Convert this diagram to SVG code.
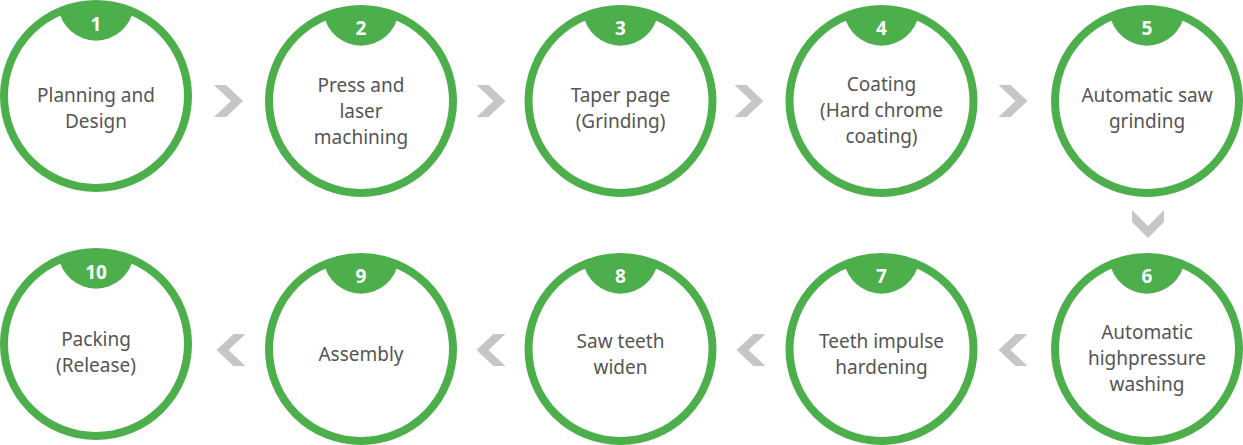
<svg xmlns="http://www.w3.org/2000/svg" width="1243" height="445" viewBox="0 0 1243 445">
<style>
.ring{fill:#fff;stroke:#4caf4c;stroke-width:8}
.badge{fill:#4caf4c}
.num{font-family:"Noto Sans","Liberation Sans",sans-serif;font-size:19px;font-weight:bold;fill:#fff;text-anchor:middle}
.lbl{font-family:"Noto Sans","Liberation Sans",sans-serif;font-size:19px;fill:#555;text-anchor:middle}
.chev{fill:#c6c6c6}
</style>
<defs>
<path id="badge" d="M -37.5,-87.2 A 38 38 0 0 0 37.5,-87.2 A 96 96 0 0 0 -37.5,-87.2 Z"/>
<polygon id="chevR" points="-14.5,-16 -2.5,-16 14.5,0 -2.5,16 -14.5,16 2.5,0"/>
<polygon id="chevL" points="14.5,-16 2.5,-16 -14.5,0 2.5,16 14.5,16 -2.5,0"/>
<polygon id="chevD" points="-16,-14 -16,-2 0,14 16,-2 16,-14 0,2"/>
</defs>
<rect width="1243" height="445" fill="#fff"/>
<g id="connectors" class="chev">
<use href="#chevR" x="228.5" y="101"/>
<use href="#chevR" x="491" y="101"/>
<use href="#chevR" x="749" y="101"/>
<use href="#chevR" x="1013" y="101"/>
<use href="#chevD" x="1148" y="224"/>
<use href="#chevL" x="1013" y="350"/>
<use href="#chevL" x="751" y="350"/>
<use href="#chevL" x="491" y="350"/>
<use href="#chevL" x="231" y="350"/>
</g>
<g id="node1">
<circle class="ring" cx="96" cy="96" r="92"/>
<use href="#badge" class="badge" x="96" y="96"/>
<text class="num" x="96" y="31">1</text>
<text class="lbl" x="96" y="102">Planning and</text>
<text class="lbl" x="96" y="128">Design</text>
</g>
<g id="node2">
<circle class="ring" cx="361" cy="101" r="92"/>
<use href="#badge" class="badge" x="361" y="101"/>
<text class="num" x="361" y="35">2</text>
<text class="lbl" x="361" y="92">Press and</text>
<text class="lbl" x="361" y="118">laser</text>
<text class="lbl" x="361" y="144">machining</text>
</g>
<g id="node3">
<circle class="ring" cx="620.5" cy="101" r="92"/>
<use href="#badge" class="badge" x="620.5" y="101"/>
<text class="num" x="620.5" y="35">3</text>
<text class="lbl" x="620.5" y="102">Taper page</text>
<text class="lbl" x="620.5" y="128">(Grinding)</text>
</g>
<g id="node4">
<circle class="ring" cx="881.5" cy="101" r="92"/>
<use href="#badge" class="badge" x="881.5" y="101"/>
<text class="num" x="881.5" y="35">4</text>
<text class="lbl" x="881.5" y="91">Coating</text>
<text class="lbl" x="881.5" y="117">(Hard chrome</text>
<text class="lbl" x="881.5" y="143">coating)</text>
</g>
<g id="node5">
<circle class="ring" cx="1147" cy="101" r="92"/>
<use href="#badge" class="badge" x="1147" y="101"/>
<text class="num" x="1147" y="35">5</text>
<text class="lbl" x="1147" y="102">Automatic saw</text>
<text class="lbl" x="1147" y="128">grinding</text>
</g>
<g id="node6">
<circle class="ring" cx="1147" cy="349" r="92"/>
<use href="#badge" class="badge" x="1147" y="349"/>
<text class="num" x="1147" y="283">6</text>
<text class="lbl" x="1147" y="339">Automatic</text>
<text class="lbl" x="1147" y="365">highpressure</text>
<text class="lbl" x="1147" y="391">washing</text>
</g>
<g id="node7">
<circle class="ring" cx="881.5" cy="349" r="92"/>
<use href="#badge" class="badge" x="881.5" y="349"/>
<text class="num" x="881.5" y="283">7</text>
<text class="lbl" x="881.5" y="348">Teeth impulse</text>
<text class="lbl" x="881.5" y="374">hardening</text>
</g>
<g id="node8">
<circle class="ring" cx="620.5" cy="349" r="92"/>
<use href="#badge" class="badge" x="620.5" y="349"/>
<text class="num" x="620.5" y="283">8</text>
<text class="lbl" x="620.5" y="348">Saw teeth</text>
<text class="lbl" x="620.5" y="374">widen</text>
</g>
<g id="node9">
<circle class="ring" cx="361" cy="349" r="92"/>
<use href="#badge" class="badge" x="361" y="349"/>
<text class="num" x="361" y="283">9</text>
<text class="lbl" x="361" y="361">Assembly</text>
</g>
<g id="node10">
<circle class="ring" cx="96" cy="344" r="92"/>
<use href="#badge" class="badge" x="96" y="344"/>
<text class="num" x="96" y="279">10</text>
<text class="lbl" x="96" y="346">Packing</text>
<text class="lbl" x="96" y="372">(Release)</text>
</g>
</svg>
